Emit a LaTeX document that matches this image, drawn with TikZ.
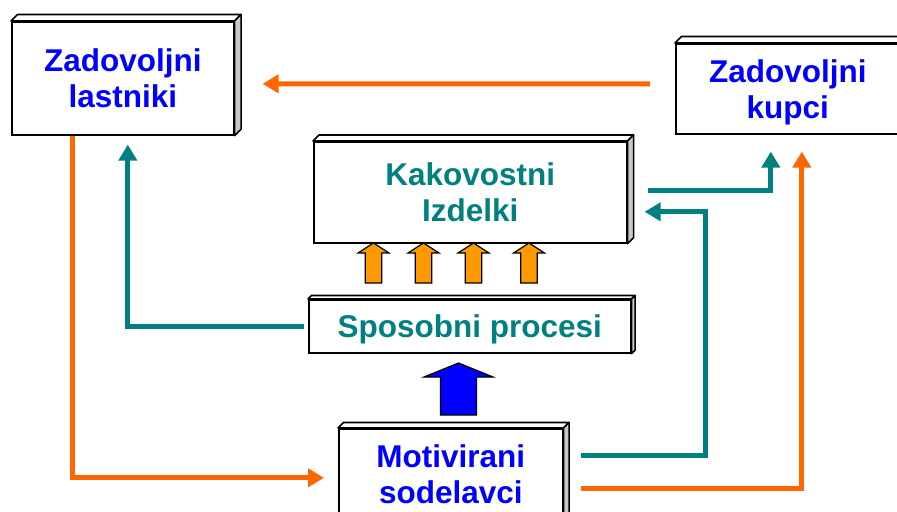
\documentclass[tikz,border=0pt]{standalone}
\usepackage{fontspec}
\setmainfont{Liberation Sans}
\usetikzlibrary{arrows.meta}
\definecolor{orangeline}{HTML}{FF6600}
\definecolor{tealline}{HTML}{008080}
\definecolor{bluetext}{HTML}{0000FF}
\definecolor{blockorange}{HTML}{FF9900}
\definecolor{sidegray}{HTML}{C8C8C8}
\newcommand\boxdepth[2]{%
  \filldraw[fill=white,draw=black,line width=1.6bp,line join=round]
    (#1.north west) -- ++(#2,-#2) -- ([shift={(#2,-#2)}]#1.north east) -- (#1.north east) -- cycle;
  \filldraw[fill=sidegray,draw=black,line width=1.6bp,line join=round]
    (#1.north east) -- ++(#2,-#2) -- ([shift={(#2,-#2)}]#1.south east) -- (#1.south east) -- cycle;}
% block arrow: centre x, tip y, head base y, bottom y, head half width, shaft half width
\newcommand\blockup[7]{%
  \filldraw[fill=#7,draw=black,line width=1.2bp,line join=miter]
    (#1,#2) -- (#1+#5,#3) -- (#1+#6,#3) -- (#1+#6,#4) -- (#1-#6,#4) -- (#1-#6,#3) -- (#1-#5,#3) -- cycle;}
\tikzset{
  box/.style={draw=black,line width=1.6bp,fill=white,inner sep=0pt,anchor=north west,
    align=center,text depth=0pt,font=\bfseries\fontsize{31.6}{36.5}\selectfont},
  bluebox/.style={box,text=bluetext},
  tealbox/.style={box,text=tealline},
  oline/.style={draw=orangeline,line width=5bp,-{Triangle[width=18bp,length=16bp]}},
  tline/.style={draw=tealline,line width=5bp,-{Triangle[width=18bp,length=16bp]}},
}
\begin{document}
\begin{tikzpicture}[x=1bp,y=-1bp]
\useasboundingbox (0,0) rectangle (897,512);
\clip (0,0) rectangle (897,512);
% boxes
\node[bluebox,minimum width=222bp,minimum height=113bp] (l) at (11,21) {Zadovoljni\\lastniki};
\boxdepth{l}{6.5}
\node[bluebox,minimum width=224bp,minimum height=90bp] (k) at (675,43) {Zadovoljni\\kupci};
\boxdepth{k}{6.5}
\node[tealbox,minimum width=313bp,minimum height=101bp] (i) at (313,141) {Kakovostni\\Izdelki};
\boxdepth{i}{6}
\node[tealbox,minimum width=322bp,minimum height=53bp] (s) at (308,299) {Sposobni procesi};
\boxdepth{s}{3.5}
\node[bluebox,minimum width=224bp,minimum height=90bp] (m) at (338,428) {Motivirani\\sodelavci};
\boxdepth{m}{5.5}
% block arrows
\blockup{373.5}{243}{253}{283}{15.5}{8.3}{blockorange}
\blockup{423.5}{243}{253}{283}{15.5}{8.3}{blockorange}
\blockup{473.5}{243}{253}{283}{15.5}{8.3}{blockorange}
\blockup{529}{243}{253}{283}{15.5}{8.3}{blockorange}
\blockup{458.5}{363}{377}{415}{34.5}{18}{bluetext}
% connectors
\draw[oline] ([shift={(-25,-5)}]k.west) -- ([shift={(28,5.5)}]l.east);
\draw[oline] ([xshift=-50]l.south) |- ([shift={(-14,4)}]m.west);
\draw[tline] ([xshift=-4]s.west) -| ([shift={(5,9)}]l.south);
\draw[tline] ([shift={(20,-2)}]i.east) -| ([shift={(-17,17)}]k.south);
\draw[tline] ([shift={(17,-18)}]m.east) -| ([shift={(78,19.5)}]i.east) -- ([shift={(17,19.5)}]i.east);
\draw[oline] ([shift={(17,15)}]m.east) -| ([shift={(14,17)}]k.south);
\end{tikzpicture}
\end{document}
